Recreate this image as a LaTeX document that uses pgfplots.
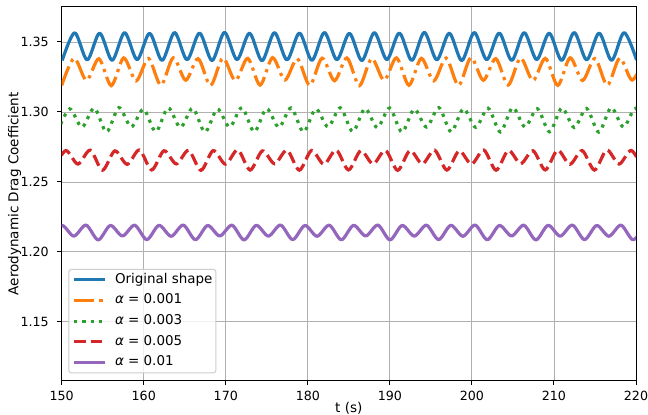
\documentclass[border=0pt]{standalone}
\usepackage{fontspec}
\setmainfont{DejaVu Sans}
\usepackage{pgfplots}
\pgfplotsset{compat=1.18}

\definecolor{c0}{HTML}{1F77B4}
\definecolor{c1}{HTML}{FF7F0E}
\definecolor{c2}{HTML}{2CA02C}
\definecolor{c3}{HTML}{D62728}
\definecolor{c4}{HTML}{9467BD}
\definecolor{gridgray}{HTML}{B0B0B0}
\definecolor{framegray}{HTML}{CCCCCC}

\begin{document}
\begin{tikzpicture}
\begin{axis}[
  scale only axis,
  width=574.3bp, height=373.7bp,
  xmin=150, xmax=220,
  ymin=1.108, ymax=1.375,
  xtick={150,160,...,220},
  ytick={1.15,1.20,1.25,1.30,1.35},
  /pgf/number format/assume math mode=true,
  tick label style={font=\fontsize{12.7}{15}\selectfont},
  xticklabel style={/pgf/number format/fixed, /pgf/number format/precision=0,
    inner sep=0pt, anchor=north, yshift=-6bp},
  yticklabel style={/pgf/number format/fixed, /pgf/number format/fixed zerofill,
    /pgf/number format/precision=2, inner sep=0pt, anchor=east, xshift=-8.4bp},
  tick align=outside,
  tick pos=left,
  major tick length=4.4bp,
  major tick style={line width=1bp, black},
  axis line style={line width=1bp, black},
  grid=major,
  major grid style={line width=0.9bp, gridgray},
  every axis x label/.style={at={(axis description cs:0.5,0)}, yshift=-27.3bp,
    anchor=center, font=\fontsize{13.6}{16}\selectfont},
  every axis y label/.style={at={(axis description cs:0,0.5)}, xshift=-47bp,
    rotate=90, anchor=center, font=\fontsize{13.6}{16}\selectfont},
  xlabel={t (s)},
  ylabel={Aerodynamic Drag Coefficient},
  legend image code/.code={\draw[#1] (0bp,0bp) -- (31bp,0bp);},
  legend cell align=left,
  legend style={
    at={(axis description cs:0.0115,0.0198)}, anchor=south west,
    draw=framegray, line width=1bp, fill=white, fill opacity=0.8, text opacity=1,
    rounded corners=2.5bp,
    inner xsep=3.5bp, inner ysep=2.65bp,
    font=\fontsize{13.5}{13.5}\selectfont,
    row sep=5.5bp,
    nodes={inner xsep=0pt, inner ysep=1bp, text height=9.9bp, text depth=3.3bp},
    /tikz/every odd column/.append style={column sep=8.5bp},
  },
  every axis plot/.append style={line width=3.2bp, smooth},
]

% original geometry
\addplot[c0, line join=round] coordinates {
(150.060,1.3368) (151.582,1.3566) (153.104,1.3372) (154.626,1.3563)
(156.148,1.3369) (157.670,1.3567) (159.192,1.3374) (160.714,1.3562)
(162.236,1.3368) (163.758,1.3568) (165.280,1.3373) (166.802,1.3564)
(168.324,1.3367) (169.846,1.3569) (171.368,1.3374) (172.890,1.3563)
(174.412,1.3366) (175.934,1.3567) (177.456,1.3372) (178.978,1.3564)
(180.500,1.3369) (182.022,1.3568) (183.544,1.3373) (185.066,1.3562)
(186.588,1.3367) (188.110,1.3567) (189.632,1.3374) (191.154,1.3564)
(192.676,1.3368) (194.198,1.3569) (195.720,1.3372) (197.242,1.3563)
(198.764,1.3367) (200.286,1.3568) (201.808,1.3373) (203.330,1.3564)
(204.852,1.3368) (206.374,1.3567) (207.896,1.3374) (209.418,1.3563)
(210.940,1.3368) (212.462,1.3568) (213.984,1.3372) (215.506,1.3564)
(217.028,1.3369) (218.550,1.3567) (220.072,1.3371)
};
\addlegendentry{Original shape}

% alpha = 0.001
\addplot[c1, line cap=butt, dash pattern=on 20.3bp off 5.1bp on 3.2bp off 5.1bp] coordinates {
(150.000,1.3190) (151.512,1.3384) (153.023,1.3226) (154.535,1.3380)
(156.046,1.3188) (157.558,1.3386) (159.069,1.3222) (160.581,1.3382)
(162.092,1.3191) (163.604,1.3387) (165.115,1.3227) (166.627,1.3381)
(168.138,1.3189) (169.650,1.3385) (171.161,1.3224) (172.673,1.3383)
(174.184,1.3192) (175.696,1.3388) (177.207,1.3228) (178.719,1.3380)
(180.230,1.3190) (181.742,1.3384) (183.253,1.3223) (184.765,1.3386)
(186.276,1.3188) (187.788,1.3382) (189.299,1.3226) (190.811,1.3387)
(192.322,1.3191) (193.834,1.3383) (195.345,1.3222) (196.857,1.3385)
(198.368,1.3189) (199.880,1.3388) (201.391,1.3227) (202.903,1.3381)
(204.414,1.3192) (205.926,1.3386) (207.437,1.3224) (208.949,1.3383)
(210.460,1.3190) (211.972,1.3387) (213.483,1.3225) (214.995,1.3382)
(216.506,1.3191) (218.018,1.3385) (219.529,1.3228) (221.040,1.3384)
};
\addlegendentry{\textit{α} = 0.001}

% alpha = 0.003
\addplot[c2, line cap=butt, dash pattern=on 3.2bp off 5.2bp] coordinates {
(149.47,1.2858) (150.97,1.3022) (152.47,1.2891) (153.97,1.3028)
(155.47,1.2857) (156.97,1.3031) (158.47,1.2893) (159.97,1.3020)
(161.47,1.2859) (162.97,1.3030) (164.47,1.2889) (165.97,1.3027)
(167.47,1.2856) (168.97,1.3021) (170.47,1.2892) (171.97,1.3031)
(173.47,1.2858) (174.97,1.3024) (176.47,1.2890) (177.97,1.3029)
(179.47,1.2857) (180.97,1.3022) (182.47,1.2893) (183.97,1.3030)
(185.47,1.2859) (186.97,1.3025) (188.47,1.2888) (189.97,1.3028)
(191.47,1.2856) (192.97,1.3021) (194.47,1.2892) (195.97,1.3031)
(197.47,1.2858) (198.97,1.3024) (200.47,1.2890) (201.97,1.3027)
(203.47,1.2857) (204.97,1.3032) (206.47,1.2893) (207.97,1.3023)
(209.47,1.2858) (210.97,1.3029) (212.47,1.2889) (213.97,1.3025)
(215.47,1.2856) (216.97,1.3031) (218.47,1.2892) (219.97,1.3026)
(221.47,1.2858)
};
\addlegendentry{\textit{α} = 0.003}

% alpha = 0.005
\addplot[c3, line cap=butt, dash pattern=on 11.7bp off 5.1bp] coordinates {
(148.980,1.2585) (150.479,1.2724) (151.978,1.2628) (153.477,1.2727)
(154.976,1.2584) (156.475,1.2722) (157.974,1.2626) (159.473,1.2728)
(160.972,1.2586) (162.471,1.2723) (163.970,1.2629) (165.469,1.2726)
(166.968,1.2583) (168.467,1.2724) (169.966,1.2627) (171.465,1.2729)
(172.964,1.2585) (174.463,1.2722) (175.962,1.2630) (177.461,1.2727)
(178.960,1.2584) (180.459,1.2725) (181.958,1.2626) (183.457,1.2728)
(184.956,1.2586) (186.455,1.2723) (187.954,1.2628) (189.453,1.2726)
(190.952,1.2583) (192.451,1.2724) (193.950,1.2629) (195.449,1.2727)
(196.948,1.2585) (198.447,1.2722) (199.946,1.2627) (201.445,1.2728)
(202.944,1.2584) (204.443,1.2725) (205.942,1.2630) (207.441,1.2723)
(208.940,1.2586) (210.439,1.2727) (211.938,1.2626) (213.437,1.2724)
(214.936,1.2585) (216.435,1.2728) (217.934,1.2628) (219.433,1.2725)
(220.932,1.2584)
};
\addlegendentry{\textit{α} = 0.005}

% alpha = 0.01
\addplot[c4, line join=round] coordinates {
(148.518,1.2087) (150.000,1.2190) (151.482,1.2113) (152.964,1.2192)
(154.446,1.2086) (155.928,1.2189) (157.410,1.2114) (158.892,1.2191)
(160.374,1.2088) (161.856,1.2190) (163.338,1.2112) (164.820,1.2192)
(166.302,1.2087) (167.784,1.2189) (169.266,1.2114) (170.748,1.2191)
(172.230,1.2086) (173.712,1.2190) (175.194,1.2113) (176.676,1.2192)
(178.158,1.2088) (179.640,1.2189) (181.122,1.2112) (182.604,1.2191)
(184.086,1.2087) (185.568,1.2190) (187.050,1.2114) (188.532,1.2192)
(190.014,1.2086) (191.496,1.2189) (192.978,1.2113) (194.460,1.2191)
(195.942,1.2088) (197.424,1.2190) (198.906,1.2112) (200.388,1.2192)
(201.870,1.2087) (203.352,1.2189) (204.834,1.2114) (206.316,1.2191)
(207.798,1.2086) (209.280,1.2190) (210.762,1.2113) (212.244,1.2192)
(213.726,1.2088) (215.208,1.2189) (216.690,1.2112) (218.172,1.2191)
(219.654,1.2087) (221.136,1.2190)
};
\addlegendentry{\textit{α} = 0.01}

\end{axis}
\pgfresetboundingbox
\path ([xshift=-61.7bp,yshift=-34.3bp]current axis.south west)
  rectangle ([xshift=12bp,yshift=7bp]current axis.north east);
\end{tikzpicture}
\end{document}
